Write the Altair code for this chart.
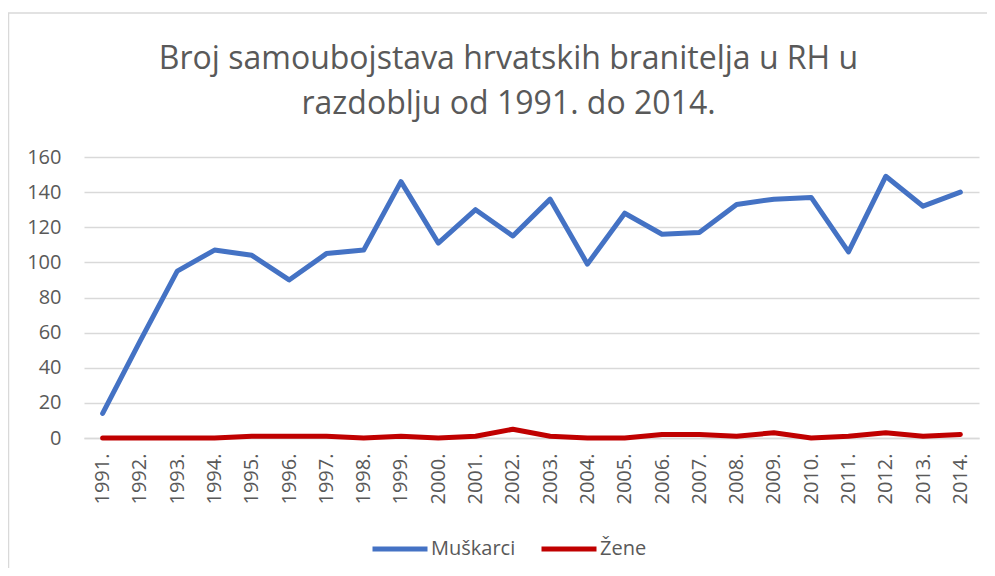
import altair as alt
import pandas as pd

years = ["1991.", "1992.", "1993.", "1994.", "1995.", "1996.", "1997.", "1998.",
         "1999.", "2000.", "2001.", "2002.", "2003.", "2004.", "2005.", "2006.",
         "2007.", "2008.", "2009.", "2010.", "2011.", "2012.", "2013.", "2014."]
muskarci = [14, 55, 95, 107, 104, 90, 105, 107, 146, 111, 130, 115, 136, 99,
            128, 116, 117, 133, 136, 137, 106, 149, 132, 140]
zene = [0, 0, 0, 0, 1, 1, 1, 0, 1, 0, 1, 5, 1, 0, 0, 2, 2, 1, 3, 0, 1, 3, 1, 2]
series = ["Muškarci", "Žene"]
colors = ["#4472C4", "#C00000"]
y_ticks = [0, 20, 40, 60, 80, 100, 120, 140, 160]
title_lines = ["Broj samoubojstava hrvatskih branitelja u RH u",
               "razdoblju od 1991. do 2014."]

rows = []
for name, vals in zip(series, [muskarci, zene]):
    for yr, v in zip(years, vals):
        rows.append({"Godina": yr, "Broj": v, "Spol": name})
df = pd.DataFrame(rows)

TEXT = "#595959"
GRID = "#D9D9D9"

lines = alt.Chart(df).mark_line(strokeWidth=5, strokeJoin="round", strokeCap="round").encode(
    x=alt.X("Godina:O", sort=years, title=None,
            scale=alt.Scale(paddingOuter=0.5, paddingInner=0, padding=0.5),
            axis=alt.Axis(labelAngle=270, labelFontSize=20, labelColor=TEXT,
                          labelPadding=15, ticks=False, domain=True,
                          domainColor=GRID, domainWidth=1.5, grid=False)),
    y=alt.Y("Broj:Q", title=None,
            scale=alt.Scale(domain=[0, 160], nice=False),
            axis=alt.Axis(values=y_ticks, labelFontSize=20, labelColor=TEXT,
                          labelPadding=23, ticks=False, domain=False,
                          grid=True, gridColor=GRID, gridWidth=1.5)),
    color=alt.Color("Spol:N", title=None,
                    scale=alt.Scale(domain=series, range=colors),
                    sort=series,
                    legend=alt.Legend(orient="none", legendX=286, legendY=362,
                                      direction="horizontal", symbolType="stroke",
                                      symbolSize=3025, symbolStrokeWidth=5,
                                      labelFontSize=20, labelColor=TEXT,
                                      labelOffset=1, columnPadding=15,
                                      padding=0)),
)

frame = alt.Chart(pd.DataFrame({"a": [0]})).mark_rect(
    filled=False, stroke=GRID, strokeWidth=1.5
).encode(
    x=alt.value(-75.5), x2=alt.value(1000), y=alt.value(-144), y2=alt.value(500)
)

chart = alt.layer(frame, lines).properties(
    width=895, height=281,
    title=alt.TitleParams(title_lines, fontSize=32, font="Open Sans",
                          fontWeight="normal", color=TEXT, anchor="middle",
                          dx=-23, dy=137, offset=28, lineHeight=45),
    autosize=alt.AutoSizeParams(type="none"),
    padding={"left": 76, "top": 149, "right": 8, "bottom": 130},
).configure(font="Open Sans").configure_view(stroke=None)

chart.save("out.html", embed_options={"renderer": "svg", "actions": False})
